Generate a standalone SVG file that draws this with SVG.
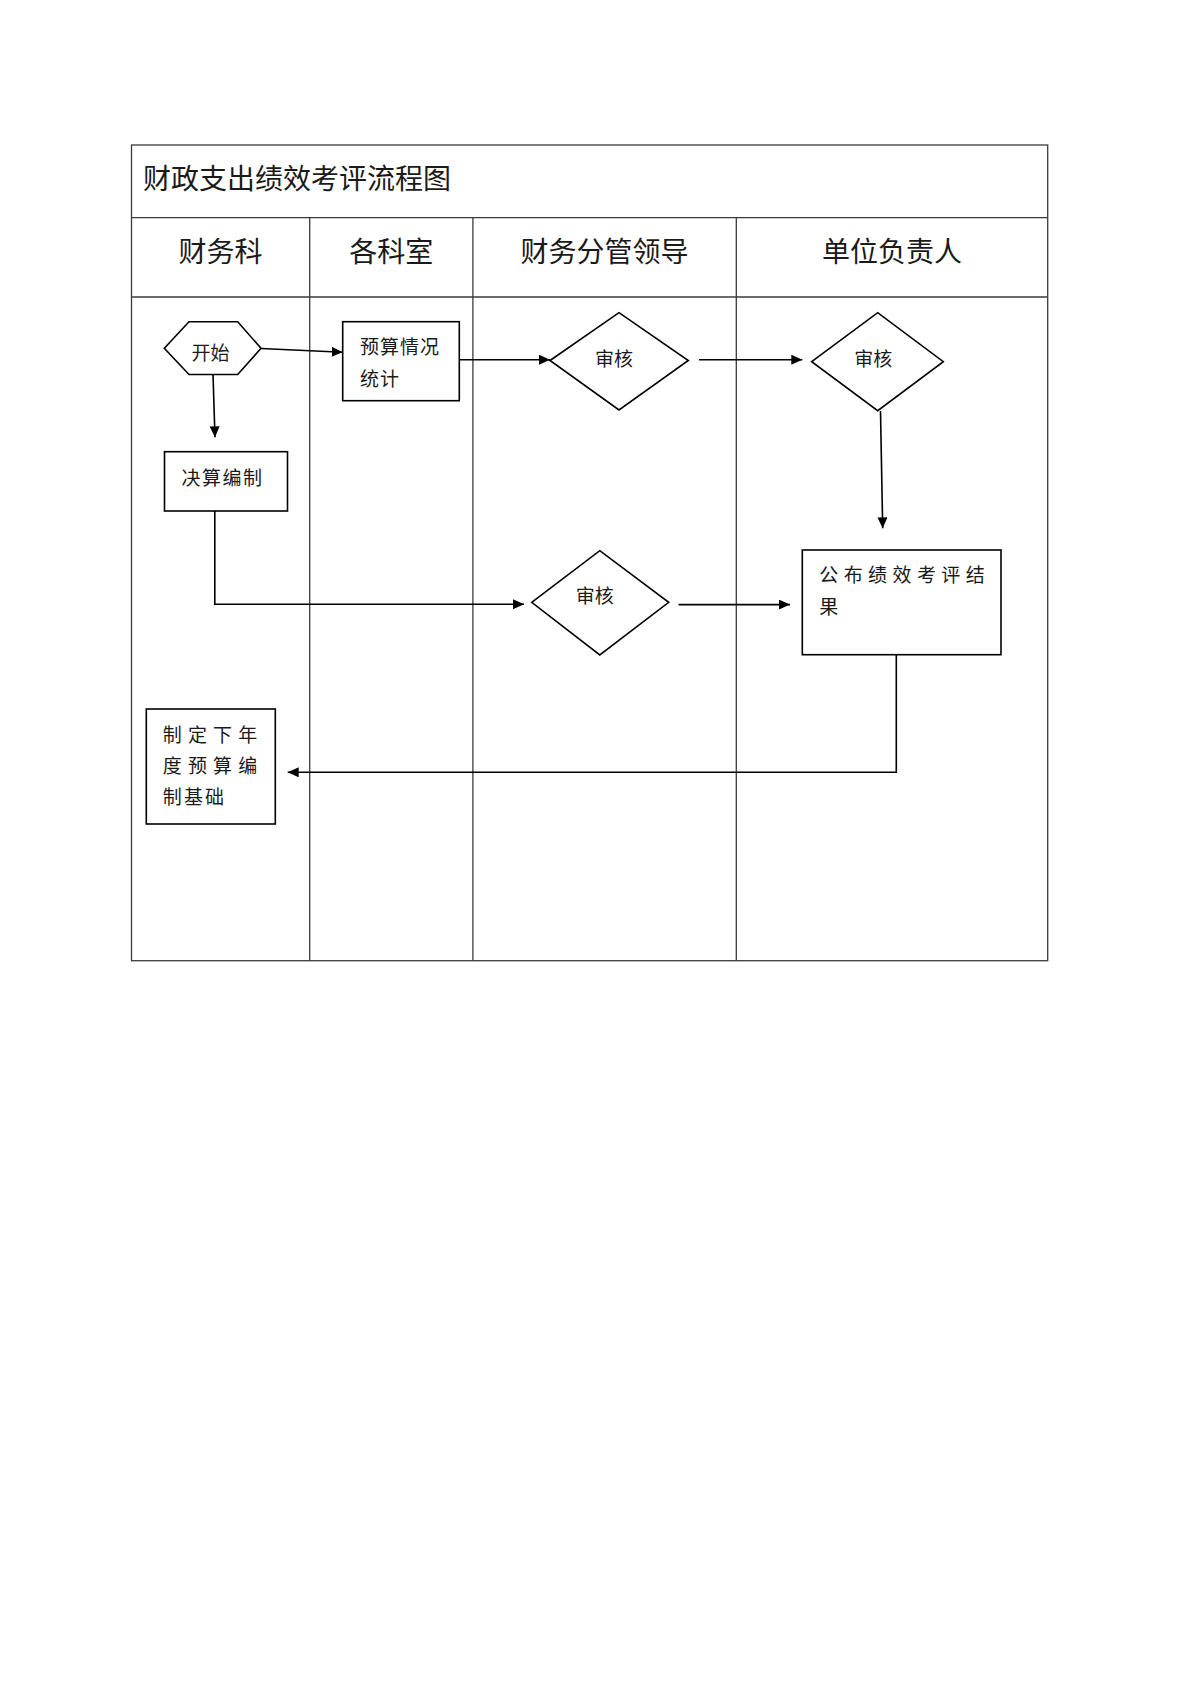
<svg xmlns="http://www.w3.org/2000/svg" width="1200" height="1698" viewBox="0 0 1200 1698">
<style>
.grid{fill:none;stroke:#3a3a3a;stroke-width:1.3}
.shape{fill:#fff;stroke:#000;stroke-width:1.6}
.conn{fill:none;stroke:#000;stroke-width:1.6}
.t{font-family:"Noto Sans CJK SC","Noto Sans CJK TC",sans-serif;fill:#1a1a1a}
.title{font-size:28px}
.hdr{font-size:28px;text-anchor:middle}
.n{font-size:19px}
</style>
<defs>
<marker id="arr" markerUnits="userSpaceOnUse" markerWidth="12" markerHeight="11" refX="11" refY="5" orient="auto">
<path d="M0,0 L11,5 L0,10 z" fill="#000"/>
</marker>
</defs>
<rect width="1200" height="1698" fill="#fff"/>
<g id="table">
<rect class="grid" x="131.5" y="145" width="916.2" height="815.7"/>
<line class="grid" x1="131.5" y1="217.7" x2="1047.7" y2="217.7"/>
<line class="grid" x1="131.5" y1="297" x2="1047.7" y2="297"/>
<line class="grid" x1="309.7" y1="217.7" x2="309.7" y2="960.7"/>
<line class="grid" x1="472.9" y1="217.7" x2="472.9" y2="960.7"/>
<line class="grid" x1="736.3" y1="217.7" x2="736.3" y2="960.7"/>
<text class="t title" x="143" y="189">财政支出绩效考评流程图</text>
<text class="t hdr" x="220.6" y="262">财务科</text>
<text class="t hdr" x="391.3" y="262">各科室</text>
<text class="t hdr" x="604.6" y="262">财务分管领导</text>
<text class="t hdr" x="892" y="262">单位负责人</text>
</g>
<g id="connectors">
<line class="conn" x1="261" y1="348.5" x2="342.7" y2="352.3" marker-end="url(#arr)"/>
<line class="conn" x1="213" y1="374.5" x2="215" y2="437.3" marker-end="url(#arr)"/>
<line class="conn" x1="459.3" y1="359.7" x2="550" y2="359.7" marker-end="url(#arr)"/>
<line class="conn" x1="699" y1="359.7" x2="802.3" y2="359.7" marker-end="url(#arr)"/>
<line class="conn" x1="880.5" y1="411" x2="882.7" y2="528.3" marker-end="url(#arr)"/>
<polyline class="conn" points="214.8,511 214.8,604.3 524,604.3" marker-end="url(#arr)"/>
<line class="conn" x1="678.6" y1="604.6" x2="790" y2="604.6" marker-end="url(#arr)"/>
<polyline class="conn" points="896.3,654.7 896.3,772.3 287.7,772.3" marker-end="url(#arr)"/>
</g>
<g id="start">
<polygon class="shape" points="164.3,348.3 189,321.7 237.7,321.7 261,348.3 237.7,374.5 189,374.5"/>
<text class="t n" x="191.5" y="360" font-size="20">开始</text>
</g>
<g id="budget-stats">
<rect class="shape" x="342.7" y="321.7" width="116.6" height="79"/>
<text class="t n" x="360" y="354" letter-spacing="1">预算情况</text>
<text class="t n" x="360" y="385.7" letter-spacing="1">统计</text>
</g>
<g id="review1">
<polygon class="shape" points="550,360.5 619,312.7 688.3,360.5 619,410"/>
<text class="t n" x="595" y="366">审核</text>
</g>
<g id="review2">
<polygon class="shape" points="811.7,361.7 877.7,312.7 943.3,361.7 877.7,410.7"/>
<text class="t n" x="854.3" y="366">审核</text>
</g>
<g id="final-accounts">
<rect class="shape" x="164.5" y="451.7" width="123" height="59.3"/>
<text class="t n" x="181.5" y="485" letter-spacing="1.5">决算编制</text>
</g>
<g id="review3">
<polygon class="shape" points="531.7,602.3 599.8,550.7 668.7,602.3 599.8,655"/>
<text class="t n" x="575.7" y="603.3">审核</text>
</g>
<g id="publish">
<rect class="shape" x="802.3" y="550" width="198.7" height="104.7"/>
<text class="t n" x="819.3" y="581.7" letter-spacing="5.4">公布绩效考评结</text>
<text class="t n" x="819.3" y="614">果</text>
</g>
<g id="next-budget">
<rect class="shape" x="146.3" y="709" width="129" height="115"/>
<text class="t n" x="162.7" y="741.7" letter-spacing="6.2">制定下年</text>
<text class="t n" x="162.7" y="772.7" letter-spacing="6.2">度预算编</text>
<text class="t n" x="162.7" y="804" letter-spacing="2.2">制基础</text>
</g>
</svg>
